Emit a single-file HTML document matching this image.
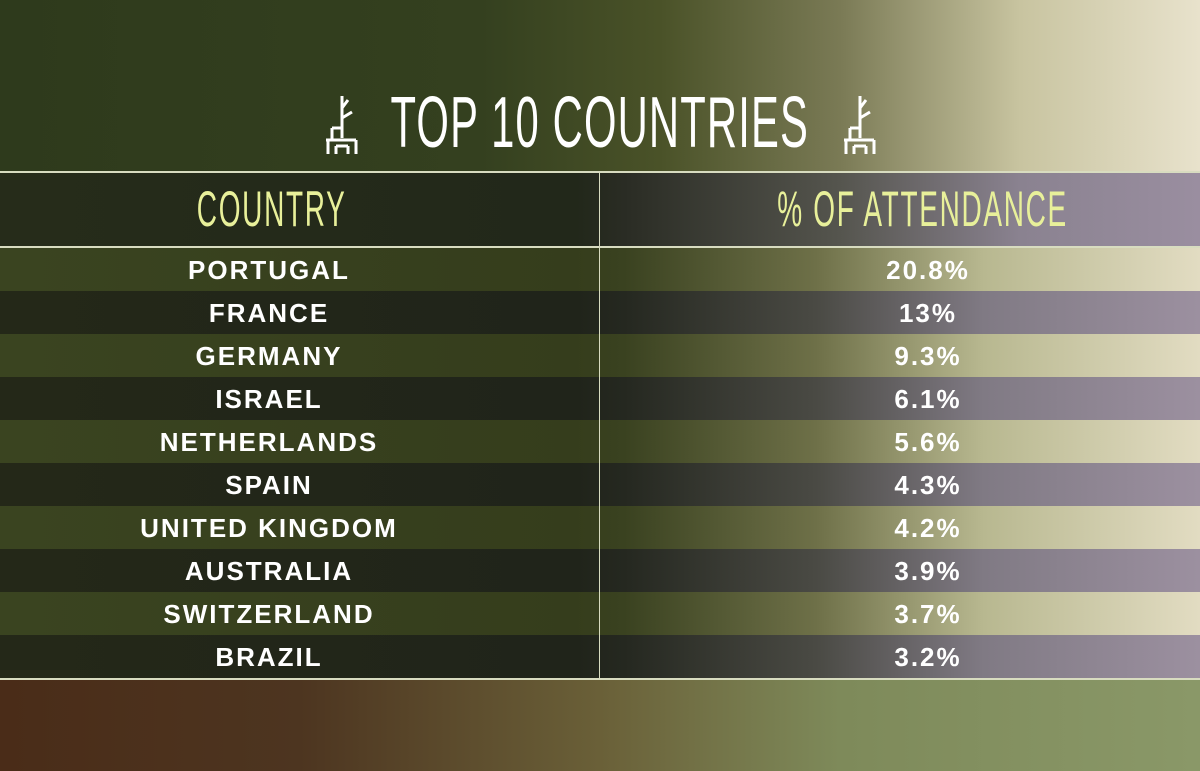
<!DOCTYPE html>
<html><head><meta charset="utf-8"><style>
html,body{margin:0;padding:0}
body{width:1200px;height:771px;position:relative;overflow:hidden;font-family:"Liberation Sans",sans-serif;
background:linear-gradient(90deg,#4a2c18 0%,#4d3520 25%,#6a6038 50%,#7e8a5a 70%,#8a9868 100%);}
.top{position:absolute;left:0;top:0;width:1200px;height:680px;
background:linear-gradient(90deg,#2e3a1c 0%,#34401f 40%,#4a5228 55%,#7a7a55 70%,#c8c4a0 85%,#e8e2cc 100%);}
.title{position:absolute;top:78px;left:0;width:1200px;text-align:center;color:#fff;font-size:72px;line-height:90px;letter-spacing:2px;}
.title span{display:inline-block;transform:scaleX(0.58);white-space:nowrap}
.ic{position:absolute;top:88px}
.hdr{position:absolute;left:0;top:171px;width:1200px;height:73px;border-top:2px solid #d8dcc0;border-bottom:2px solid #d8dcc0;
background:linear-gradient(90deg,#262c1a 0%,#22281a 48%,#2a2c24 52%,#55554e 70%,#8a8290 85%,#9a8ea0 100%);}
.hdr div{position:absolute;top:0;height:73px;line-height:73px;color:#e8f09a;font-size:50px;text-align:center}
.hdr div span{display:inline-block;transform:scaleX(0.56);white-space:nowrap;letter-spacing:3px}
.row{position:absolute;left:0;width:1200px;height:43px;color:#fff;font-size:26px;font-weight:bold;letter-spacing:2px;line-height:45px}
.row div{position:absolute;top:0;text-align:center}
.a{background:linear-gradient(90deg,#3a4420 0%,#353d1c 48%,#3a4220 52%,#6e7048 68%,#b8b890 82%,#e2dcc2 100%)}
.b{background:linear-gradient(90deg,#242818 0%,#20241a 48%,#252820 52%,#4a4a44 68%,#807a84 82%,#9c90a0 100%)}
.c1{left:0;width:538px}.c2{left:600px;width:656px}
.vl{position:absolute;left:599px;top:171px;width:1px;height:507px;background:#d8dcc0}
.bl{position:absolute;left:0;top:678px;width:1200px;height:2px;background:#d8dcc0}
</style></head><body>
<div class="top"></div>
<div class="title"><span>TOP 10 COUNTRIES</span></div>
<svg class="ic" style="left:322px" width="40" height="70" viewBox="0 0 40 70" fill="none" stroke="#fff" stroke-width="3">
<path d="M20 8 V50 M20 20 L26 12 M20 30 L30 24 M10 40 H20 M10 40 V52 M4 52 H34 M6 52 V66 M14 58 V66 M26 58 V66 M34 52 V66 M14 58 H26"/></svg>
<svg class="ic" style="left:840px" width="40" height="70" viewBox="0 0 40 70" fill="none" stroke="#fff" stroke-width="3">
<path d="M20 8 V50 M20 20 L26 12 M20 30 L30 24 M10 40 H20 M10 40 V52 M4 52 H34 M6 52 V66 M14 58 V66 M26 58 V66 M34 52 V66 M14 58 H26"/></svg>
<div class="hdr"><div style="left:0;width:544px"><span>COUNTRY</span></div><div style="left:600px;width:646px"><span>% OF ATTENDANCE</span></div></div>
<div class="row a" style="top:248px"><div class="c1">PORTUGAL</div><div class="c2">20.8%</div></div>
<div class="row b" style="top:291px"><div class="c1">FRANCE</div><div class="c2">13%</div></div>
<div class="row a" style="top:334px"><div class="c1">GERMANY</div><div class="c2">9.3%</div></div>
<div class="row b" style="top:377px"><div class="c1">ISRAEL</div><div class="c2">6.1%</div></div>
<div class="row a" style="top:420px"><div class="c1">NETHERLANDS</div><div class="c2">5.6%</div></div>
<div class="row b" style="top:463px"><div class="c1">SPAIN</div><div class="c2">4.3%</div></div>
<div class="row a" style="top:506px"><div class="c1">UNITED KINGDOM</div><div class="c2">4.2%</div></div>
<div class="row b" style="top:549px"><div class="c1">AUSTRALIA</div><div class="c2">3.9%</div></div>
<div class="row a" style="top:592px"><div class="c1">SWITZERLAND</div><div class="c2">3.7%</div></div>
<div class="row b" style="top:635px"><div class="c1">BRAZIL</div><div class="c2">3.2%</div></div>
<div class="vl"></div><div class="bl"></div>
</body></html>
